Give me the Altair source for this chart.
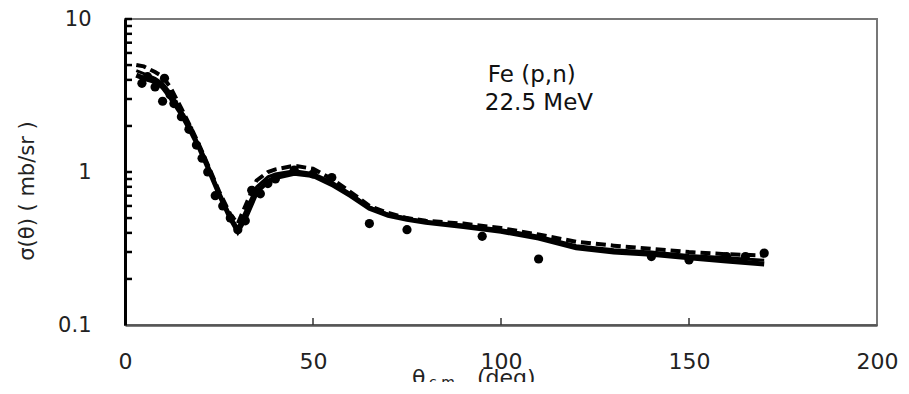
import altair as alt
import pandas as pd

# ---- data ----
theta_curve = [3, 5, 8, 10, 12, 15, 18, 20, 22, 25, 28, 30, 32, 35, 38, 40, 45, 50, 55, 60,
               65, 70, 75, 80, 90, 100, 110, 120, 130, 140, 150, 160, 170]
sigma_solid = [4.3, 4.1, 3.9, 3.6, 3.1, 2.4, 1.75, 1.4, 1.08, 0.72, 0.5, 0.41, 0.5, 0.74, 0.87,
               0.92, 0.98, 0.95, 0.83, 0.7, 0.58, 0.52, 0.49, 0.47, 0.44, 0.41, 0.37, 0.32, 0.3,
               0.29, 0.275, 0.262, 0.25]
sigma_solid2 = [4.6, 4.4, 4.1, 3.8, 3.3, 2.5, 1.8, 1.42, 1.1, 0.73, 0.51, 0.43, 0.55, 0.8, 0.93,
                0.97, 1.02, 0.98, 0.86, 0.72, 0.59, 0.53, 0.5, 0.47, 0.45, 0.42, 0.38, 0.33, 0.31,
                0.3, 0.285, 0.275, 0.265]
sigma_dashed = [5.0, 4.9, 4.5, 4.2, 3.6, 2.6, 1.85, 1.45, 1.12, 0.75, 0.53, 0.46, 0.6, 0.88, 1.0,
                1.04, 1.1, 1.05, 0.9, 0.74, 0.6, 0.54, 0.5, 0.48, 0.46, 0.43, 0.39, 0.35, 0.33,
                0.315, 0.3, 0.29, 0.285]

theta_exp = [4.5, 6, 8, 10, 10.5, 12, 13, 15, 17, 19, 20.5, 22, 24, 26, 28, 30, 32, 33.7, 36,
             38, 40, 45, 50, 55, 65, 75, 95, 110, 140, 150, 160, 165, 170]
sigma_exp = [3.8, 4.2, 3.6, 2.9, 4.1, 3.2, 2.8, 2.3, 1.9, 1.5, 1.23, 1.0, 0.7, 0.6, 0.5, 0.42,
             0.48, 0.76, 0.72, 0.84, 0.9, 1.03, 0.97, 0.92, 0.46, 0.42, 0.38, 0.27, 0.28, 0.266,
             0.28, 0.28, 0.295]

y_tick_labels = [0.1, 1, 10]
y_minor_ticks = [0.2, 0.3, 0.4, 0.5, 0.6, 0.7, 0.8, 0.9, 1, 2, 3, 4, 5, 6, 7, 8, 9, 10]
x_tick_labels = [0, 50, 100, 150, 200]
x_inner_ticks = [50, 100, 150]

note_lines = ["Fe (p,n)", "22.5 MeV"]
note_theta = [96.5, 95.7]
note_sigma = [4.3, 2.83]

FONT = "DejaVu Sans"

curves = pd.DataFrame({"theta": theta_curve, "solid": sigma_solid,
                       "solid2": sigma_solid2, "dashed": sigma_dashed})
exp = pd.DataFrame({"theta": theta_exp, "sigma": sigma_exp})
ymin = pd.DataFrame({"v": y_minor_ticks})
xmin = pd.DataFrame({"v": x_inner_ticks})
notes = pd.DataFrame({"t": note_lines, "theta": note_theta, "sigma": note_sigma})

xs = alt.Scale(domain=[0, 200], nice=False)
ys = alt.Scale(type="log", domain=[0.1, 10], nice=False)

xaxis = alt.Axis(values=x_tick_labels, ticks=False, grid=False, labelFont=FONT,
                 labelFontSize=22, labelPadding=26, labelColor="#222", domainColor="#555",
                 domainWidth=2.5, title=None, labelFlush=False)
yaxis = alt.Axis(values=y_tick_labels, format="~g", ticks=False, grid=False, labelFont=FONT,
                 labelFontSize=21, labelPadding=34, labelColor="#222", domainColor="#000",
                 domainWidth=3, title=None, labelFlush=False)

base = alt.Chart(curves)

line_solid = base.mark_line(color="black", strokeWidth=5).encode(
    x=alt.X("theta:Q", scale=xs, axis=xaxis),
    y=alt.Y("solid:Q", scale=ys, axis=yaxis))
line_solid2 = base.mark_line(color="black", strokeWidth=3).encode(
    x=alt.X("theta:Q", scale=xs), y=alt.Y("solid2:Q", scale=ys))
line_dashed = base.mark_line(color="black", strokeWidth=4, strokeDash=[10, 5]).encode(
    x=alt.X("theta:Q", scale=xs), y=alt.Y("dashed:Q", scale=ys))

points = alt.Chart(exp).mark_circle(color="black", size=85, opacity=1).encode(
    x=alt.X("theta:Q", scale=xs), y=alt.Y("sigma:Q", scale=ys))

yticks = alt.Chart(ymin).mark_rule(color="black", strokeWidth=2.5).encode(
    y=alt.Y("v:Q", scale=ys), x=alt.value(0), x2=alt.value(7))
xticks = alt.Chart(xmin).mark_rule(color="#333", strokeWidth=1.5).encode(
    x=alt.X("v:Q", scale=xs), y=alt.value(306), y2=alt.value(299))

note = alt.Chart(notes).mark_text(align="left", baseline="middle", font=FONT,
                                   fontSize=23, color="#111").encode(
    x=alt.X("theta:Q", scale=xs), y=alt.Y("sigma:Q", scale=ys), text="t:N")

ytitle = alt.Chart(pd.DataFrame({"t": ["σ(θ) ( mb/sr )"]})).mark_text(
    angle=270, align="center", baseline="middle", font=FONT, fontSize=21, color="#222").encode(
    x=alt.value(-97), y=alt.value(172), text="t:N")

xt1 = alt.Chart(pd.DataFrame({"t": ["θ"]})).mark_text(
    align="left", baseline="top", font=FONT, fontSize=22, color="#222").encode(
    x=alt.value(287), y=alt.value(349), text="t:N")
xt2 = alt.Chart(pd.DataFrame({"t": ["c.m."]})).mark_text(
    align="left", baseline="top", font=FONT, fontSize=14, color="#222").encode(
    x=alt.value(304), y=alt.value(357), text="t:N")
xt3 = alt.Chart(pd.DataFrame({"t": ["(deg)"]})).mark_text(
    align="left", baseline="top", font=FONT, fontSize=22, color="#222").encode(
    x=alt.value(352), y=alt.value(349), text="t:N")

chart = alt.layer(line_dashed, line_solid2, line_solid, points, yticks, xticks, note,
                  ytitle, xt1, xt2, xt3).properties(
    width=752, height=306,
    padding={"left": 117, "top": 11, "right": 24, "bottom": 57},
    autosize=alt.AutoSizeParams(type="none"),
    background="white",
).configure_view(stroke="#777", strokeWidth=2)

chart.save("out.html", embed_options={"renderer": "svg", "actions": False})
